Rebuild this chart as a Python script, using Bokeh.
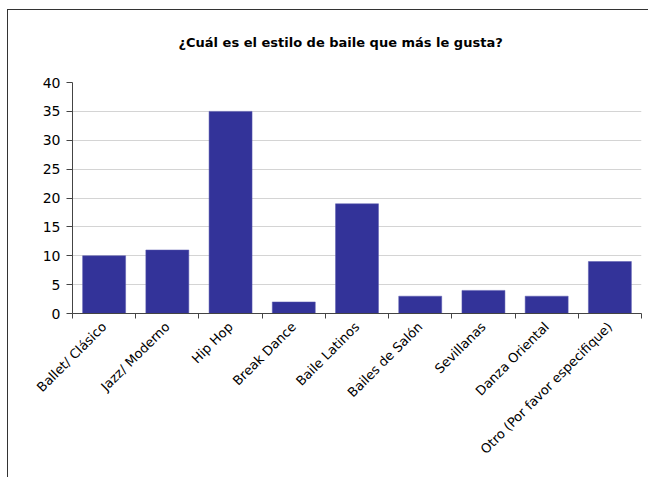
import math
from bokeh.plotting import figure
from bokeh.models import ColumnDataSource, FixedTicker, Range1d, Title
from bokeh.embed import file_html
from bokeh.resources import INLINE

categories = ["Ballet/ Clásico", "Jazz/ Moderno", "Hip Hop", "Break Dance",
              "Baile Latinos", "Bailes de Salón", "Sevillanas", "Danza Oriental",
              "Otro (Por favor especifique)"]
values = [10, 11, 35, 2, 19, 3, 4, 3, 9]
y_ticks = [0, 5, 10, 15, 20, 25, 30, 35, 40]
title_text = "¿Cuál es el estilo de baile que más le gusta?"

FONT = "DejaVu Sans"
n = len(categories)
xs = [i + 0.5 for i in range(n)]
src = ColumnDataSource(dict(x=xs, top=values, cat=categories))

p = figure(width=648, height=477, output_backend="svg", toolbar_location=None,
           x_range=Range1d(0, n), y_range=Range1d(0, 40),
           min_border_left=72, min_border_right=7, min_border_top=82, min_border_bottom=164)
p.title = None
t = Title(text=title_text, align="left", text_font=FONT, text_font_size="13px",
          text_font_style="bold", text_color="#000000", offset=106, standoff=65)
p.add_layout(t, "above")

p.vbar(x="x", top="top", width=0.68, source=src, fill_color="#333399",
       line_color="#5b5bb0", line_width=0.5)

p.outline_line_color = None
p.background_fill_color = "white"
p.border_fill_color = None

p.xgrid.visible = False
p.ygrid.grid_line_color = "#d4d4d4"
p.ygrid.ticker = FixedTicker(ticks=y_ticks)

p.yaxis.ticker = FixedTicker(ticks=y_ticks)
p.yaxis.axis_line_color = "#444444"
p.yaxis.major_tick_line_color = "#444444"
p.yaxis.major_tick_out = 6
p.yaxis.major_tick_in = 0
p.yaxis.minor_tick_line_color = None
p.yaxis.major_label_text_font = FONT
p.yaxis.major_label_text_font_size = "14px"
p.yaxis.major_label_text_color = "#000000"
p.yaxis.major_label_standoff = 6

p.xaxis.ticker = FixedTicker(ticks=xs, minor_ticks=list(range(n + 1)))
p.xaxis.major_label_overrides = {x: c for x, c in zip(xs, categories)}
p.xaxis.major_tick_line_color = None
p.xaxis.minor_tick_line_color = "#444444"
p.xaxis.minor_tick_out = 5
p.xaxis.minor_tick_in = 0
p.xaxis.axis_line_color = "#444444"
p.xaxis.major_label_orientation = math.pi / 4
p.xaxis.major_label_text_font = FONT
p.xaxis.major_label_text_font_size = "13px"
p.xaxis.major_label_text_color = "#000000"
p.xaxis.major_label_standoff = 5

p.styles = {
    "background": "linear-gradient(#333333, #333333) 7px 9px / 1px 100% no-repeat, "
                  "linear-gradient(#333333, #333333) 7px 9px / 100% 1px no-repeat, white"
}

open("out.html", "w").write(file_html(p, INLINE))
